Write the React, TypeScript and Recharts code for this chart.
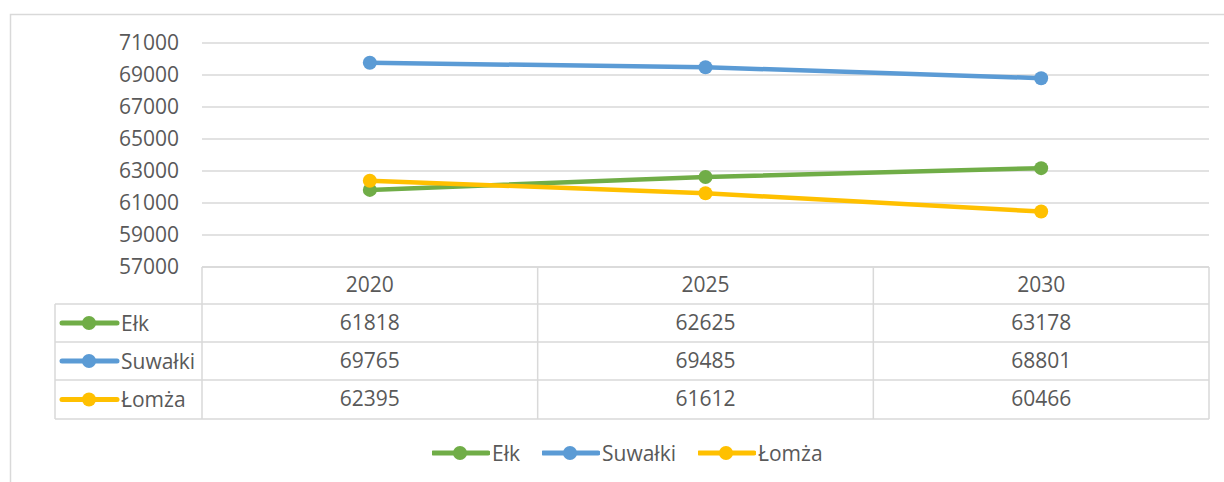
import { LineChart, Line, XAxis, YAxis, CartesianGrid, Legend } from "recharts";

const years = [2020, 2025, 2030];
const elk = [61818, 62625, 63178];
const suwalki = [69765, 69485, 68801];
const lomza = [62395, 61612, 60466];
const yTicks = [57000, 59000, 61000, 63000, 65000, 67000, 69000, 71000];

const seriesList = [
  { key: "elk", name: "Ełk", color: "#70AD47", values: elk },
  { key: "suwalki", name: "Suwałki", color: "#5B9BD5", values: suwalki },
  { key: "lomza", name: "Łomża", color: "#FFC000", values: lomza },
];

const data = years.map((year, i) => ({
  year,
  elk: elk[i],
  suwalki: suwalki[i],
  lomza: lomza[i],
}));

// layout (Excel-like chart with data table)
const W = 1224;
const H = 482;
const PLOT_LEFT = 202;
const PLOT_RIGHT = 1209;
const PLOT_TOP = 43;
const PLOT_BOTTOM = 267;
const HEADER_H = 37;
const ROW_H = [38, 38, 39];
const TABLE_LEFT = 55;
const COL_W = (PLOT_RIGHT - PLOT_LEFT) / years.length;
const GRID = "#D9D9D9";
const TEXT = "#595959";
const FONT = "'Open Sans', sans-serif";
const FONT_SIZE = 21;

const rowTops = ROW_H.reduce<number[]>(
  (acc, h, i) => [...acc, acc[i] + h],
  [PLOT_BOTTOM + HEADER_H]
);
const tableBottom = rowTops[rowTops.length - 1];

function KeyIcon({ x, y, color }: { x: number; y: number; color: string }) {
  return (
    <g>
      <line
        x1={x}
        y1={y}
        x2={x + 55}
        y2={y}
        stroke={color}
        strokeWidth={5}
        strokeLinecap="round"
      />
      <circle cx={x + 27} cy={y} r={7} fill={color} />
    </g>
  );
}

function TableOverlay() {
  const colLines = years.map((_, i) => PLOT_LEFT + COL_W * (i + 1));
  return (
    <svg
      width={W}
      height={H}
      style={{ position: "absolute", left: 0, top: 0, pointerEvents: "none" }}
    >
      {/* chart area border */}
      <rect x={10.5} y={14.5} width={1400} height={700} fill="none" stroke={GRID} strokeWidth={1.5} />
      {/* header row */}
      <line x1={PLOT_LEFT} y1={PLOT_BOTTOM} x2={PLOT_RIGHT} y2={PLOT_BOTTOM} stroke={GRID} strokeWidth={1.5} />
      {rowTops.map((y) => (
        <line key={y} x1={TABLE_LEFT} y1={y} x2={PLOT_RIGHT} y2={y} stroke={GRID} strokeWidth={1.5} />
      ))}
      <line x1={TABLE_LEFT} y1={rowTops[0]} x2={TABLE_LEFT} y2={tableBottom} stroke={GRID} strokeWidth={1.5} />
      <line x1={PLOT_LEFT} y1={PLOT_BOTTOM} x2={PLOT_LEFT} y2={tableBottom} stroke={GRID} strokeWidth={1.5} />
      {colLines.map((x) => (
        <line key={x} x1={x} y1={PLOT_BOTTOM} x2={x} y2={tableBottom} stroke={GRID} strokeWidth={1.5} />
      ))}
      {seriesList.map((s, i) => {
        const cy = rowTops[i] + ROW_H[i] / 2;
        return (
          <g key={s.key}>
            <KeyIcon x={62} y={cy} color={s.color} />
            <text
              x={121}
              y={cy}
              dy="0.36em"
              fill={TEXT}
              fontSize={FONT_SIZE}
              fontFamily={FONT}
            >
              {s.name}
            </text>
          </g>
        );
      })}
    </svg>
  );
}

function BottomLegend() {
  return (
    <div style={{ display: "flex", alignItems: "center", fontFamily: FONT, fontSize: FONT_SIZE, color: TEXT }}>
      {seriesList.map((s) => (
        <div key={s.key} style={{ display: "flex", alignItems: "center", marginRight: 22 }}>
          <svg width={58} height={16}>
            <KeyIcon x={1} y={8} color={s.color} />
          </svg>
          <span style={{ marginLeft: 2, lineHeight: "24px" }}>{s.name}</span>
        </div>
      ))}
    </div>
  );
}

export default function App() {
  return (
    <div
      style={{
        position: "absolute",
        left: 0,
        top: 0,
        width: W,
        height: H,
        background: "#fff",
        fontFamily: FONT,
        overflow: "hidden",
      }}
    >
      <LineChart
        width={W}
        height={H}
        data={data}
        margin={{ top: PLOT_TOP, right: W - PLOT_RIGHT, bottom: H - tableBottom, left: 0 }}
      >
        <CartesianGrid vertical={false} stroke={GRID} strokeWidth={1.3} />
        <YAxis
          type="number"
          domain={[57000, 71000]}
          ticks={yTicks}
          width={PLOT_LEFT}
          axisLine={false}
          tickLine={false}
          tickSize={0}
          tickMargin={23}
          tick={{ fill: TEXT, fontSize: FONT_SIZE, fontFamily: FONT }}
        />
        {/* axis ids sort alphabetically when stacked: a = header, b..d = table rows */}
        <XAxis
          xAxisId="a-year"
          dataKey="year"
          height={HEADER_H}
          padding={{ left: COL_W / 2, right: COL_W / 2 }}
          interval={0}
          axisLine={false}
          tickLine={false}
          tickSize={0}
          tickMargin={10}
          tick={{ fill: TEXT, fontSize: FONT_SIZE, fontFamily: FONT }}
        />
        {seriesList.map((s, i) => (
          <XAxis
            key={`row-${s.key}`}
            xAxisId={`${"bcd"[i]}-row-${s.key}`}
            dataKey="year"
            height={ROW_H[i]}
            padding={{ left: COL_W / 2, right: COL_W / 2 }}
            interval={0}
            axisLine={false}
            tickLine={false}
            tickSize={0}
            tickMargin={11}
            tickFormatter={(y: number) => String(s.values[years.indexOf(y)])}
            tick={{ fill: TEXT, fontSize: FONT_SIZE, fontFamily: FONT }}
          />
        ))}
        {seriesList.map((s) => (
          <Line
            key={s.key}
            xAxisId="a-year"
            type="linear"
            dataKey={s.key}
            name={s.name}
            stroke={s.color}
            strokeWidth={4.5}
            strokeLinecap="round"
            dot={{ r: 7, fill: s.color, stroke: s.color, strokeWidth: 0 }}
            activeDot={false}
            isAnimationActive={false}
          />
        ))}
        <Legend
          layout="horizontal"
          verticalAlign="middle"
          align="center"
          wrapperStyle={{ position: "absolute", top: 441, left: 432, width: "auto" }}
          content={() => <BottomLegend />}
        />
      </LineChart>
      <TableOverlay />
    </div>
  );
}
